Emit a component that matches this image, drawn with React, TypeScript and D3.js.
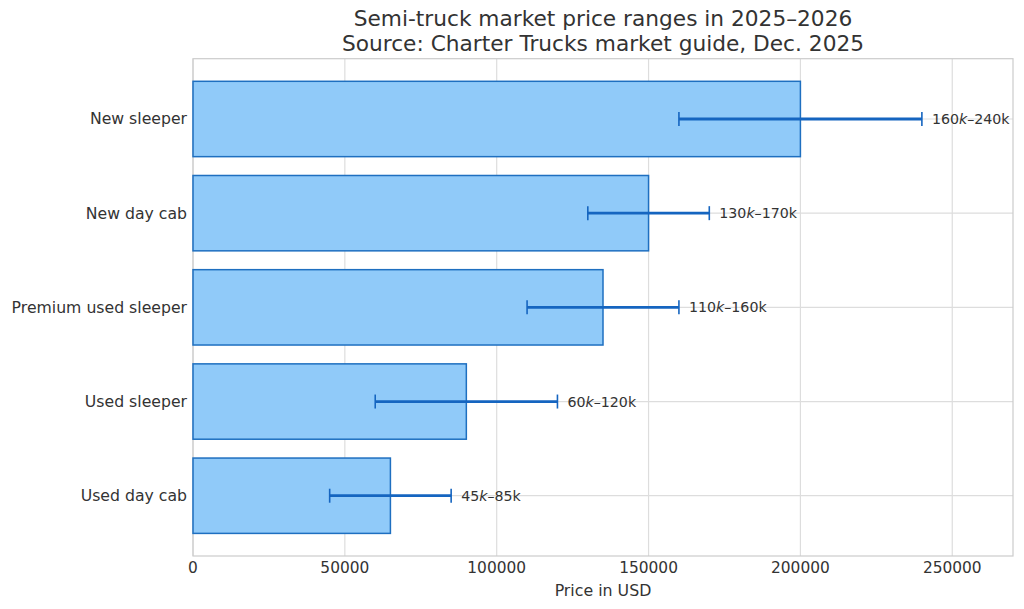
import React from "react";
import * as d3 from "d3";

const categories = ["New sleeper", "New day cab", "Premium used sleeper", "Used sleeper", "Used day cab"];
const midValues = [200000, 150000, 135000, 90000, 65000];
const lowValues = [160000, 130000, 110000, 60000, 45000];
const highValues = [240000, 170000, 160000, 120000, 85000];
const rangeLabels = [["160", "240k"], ["130", "170k"], ["110", "160k"], ["60", "120k"], ["45", "85k"]];
const xTicks = [0, 50000, 100000, 150000, 200000, 250000];

const W = 1024, H = 609;
const M = { left: 193, right: 1013, top: 58.7, bottom: 556 };
const FONT = "DejaVu Sans, sans-serif";
const TEXT = "#333333";
const GRID = "#dddddd";
const BAR_FILL = "#90CAF9";
const BAR_STROKE = "#1E6FC0";
const ERR = "#1565C0";

export default function App() {
  const x = d3.scaleLinear().domain([0, 270000]).range([M.left, M.right]);
  const y = d3.scaleLinear().domain([-0.64, 4.64]).range([M.top, M.bottom]);
  const bh = y(0.4) - y(-0.4);
  const cap = 7;
  return (
    <svg width={W} height={H} style={{ position: "absolute", left: 0, top: 0 }} fontFamily={FONT}>
      <rect width={W} height={H} fill="#fff" />
      {xTicks.map((t) => (
        <line key={"gx" + t} x1={x(t)} x2={x(t)} y1={M.top} y2={M.bottom} stroke={GRID} strokeWidth={1.2} />
      ))}
      {categories.map((c, i) => (
        <line key={"gy" + c} x1={M.left} x2={M.right} y1={y(i)} y2={y(i)} stroke={GRID} strokeWidth={1.2} />
      ))}
      <rect x={M.left} y={M.top} width={M.right - M.left} height={M.bottom - M.top} fill="none" stroke="#cccccc" strokeWidth={1.2} />
      {categories.map((c, i) => (
        <rect key={"b" + c} x={x(0)} y={y(i) - bh / 2} width={x(midValues[i]) - x(0)} height={bh}
          fill={BAR_FILL} stroke={BAR_STROKE} strokeWidth={1.5} />
      ))}
      {categories.map((c, i) => (
        <g key={"e" + c} stroke={ERR} strokeWidth={2.8}>
          <line x1={x(lowValues[i])} x2={x(highValues[i])} y1={y(i)} y2={y(i)} />
          <line x1={x(lowValues[i])} x2={x(lowValues[i])} y1={y(i) - cap} y2={y(i) + cap} strokeWidth={1.6} />
          <line x1={x(highValues[i])} x2={x(highValues[i])} y1={y(i) - cap} y2={y(i) + cap} strokeWidth={1.6} />
        </g>
      ))}
      {categories.map((c, i) => (
        <text key={"l" + c} x={x(highValues[i]) + 10} y={y(i)} dy="0.35em" fontSize={14.2} fill={TEXT}>
          {rangeLabels[i][0]}
          <tspan fontStyle="italic">k</tspan>
          {"–" + rangeLabels[i][1]}
        </text>
      ))}
      {categories.map((c, i) => (
        <text key={"yl" + c} x={M.left - 6} y={y(i)} dy="0.35em" textAnchor="end" fontSize={15.7} fill={TEXT}>{c}</text>
      ))}
      {xTicks.map((t) => (
        <text key={"xl" + t} x={x(t)} y={M.bottom + 17} textAnchor="middle" fontSize={15.4} fill={TEXT}>{String(t)}</text>
      ))}
      <text x={(M.left + M.right) / 2} y={596} textAnchor="middle" fontSize={15.8} fill={TEXT}>Price in USD</text>
      <text x={(M.left + M.right) / 2} y={26} textAnchor="middle" fontSize={21.7} fill={TEXT}>Semi-truck market price ranges in 2025–2026</text>
      <text x={(M.left + M.right) / 2} y={51} textAnchor="middle" fontSize={21.7} fill={TEXT}>Source: Charter Trucks market guide, Dec. 2025</text>
    </svg>
  );
}
